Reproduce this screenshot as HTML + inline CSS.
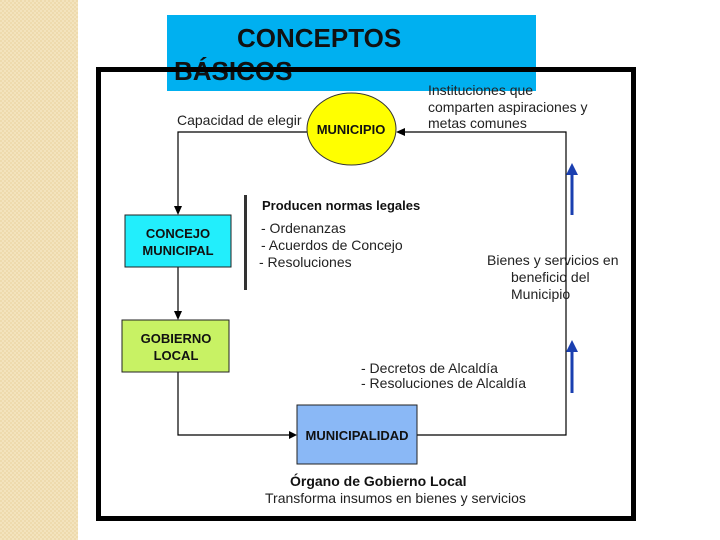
<!DOCTYPE html>
<html><head><meta charset="utf-8"><style>
html,body{margin:0;padding:0;background:#fff}
svg{display:block}
text{font-family:"Liberation Sans",Arial,sans-serif}
</style></head><body>
<svg width="720" height="540" viewBox="0 0 720 540" xmlns="http://www.w3.org/2000/svg">
<defs>
<pattern id="chk" width="4" height="4" patternUnits="userSpaceOnUse">
<rect width="4" height="4" fill="#f3e3bd"/><rect width="2" height="2" fill="#eedaad"/><rect x="2" y="2" width="2" height="2" fill="#eedaad"/>
</pattern>
</defs>
<rect x="0" y="0" width="78" height="540" fill="url(#chk)"/>
<rect x="167" y="15" width="369" height="76" fill="#00b0f0"/>
<text x="237" y="47" font-size="26" font-weight="bold" fill="#111">CONCEPTOS</text>
<text x="174" y="80" font-size="26" font-weight="bold" fill="#111">BÁSICOS</text>
<rect x="98.5" y="69.5" width="535" height="449" fill="none" stroke="#000" stroke-width="5"/>

<g stroke="#000" stroke-width="1.2" fill="none">
<polyline points="307,132 178,132 178,210"/>
<line x1="178" y1="267" x2="178" y2="315"/>
<polyline points="178,372 178,435 292,435"/>
<polyline points="417,435 566,435 566,132 402,132"/>
</g>
<g fill="#000">
<polygon points="174,206 182,206 178,215"/>
<polygon points="174,311 182,311 178,320"/>
<polygon points="289,431 289,439 297,435"/>
<polygon points="405,128 405,136 396,132"/>
</g>
<ellipse cx="351.5" cy="129" rx="44.5" ry="36" fill="#ffff00" stroke="#333" stroke-width="1"/>
<text x="351" y="134" font-size="13" font-weight="bold" text-anchor="middle" fill="#111">MUNICIPIO</text>
<text x="177" y="125" font-size="14" fill="#222">Capacidad de elegir</text>
<text x="428" y="95" font-size="14" fill="#222">Instituciones que</text>
<text x="428" y="112" font-size="14" fill="#222">comparten aspiraciones y</text>
<text x="428" y="128" font-size="14" fill="#222">metas comunes</text>

<rect x="125" y="215" width="106" height="52" fill="#22eefc" stroke="#222" stroke-width="1"/>
<text x="178" y="238" font-size="13" font-weight="bold" text-anchor="middle" fill="#111">CONCEJO</text>
<text x="178" y="255" font-size="13" font-weight="bold" text-anchor="middle" fill="#111">MUNICIPAL</text>

<rect x="122" y="320" width="107" height="52" fill="#c8f264" stroke="#222" stroke-width="1"/>
<text x="176" y="343" font-size="13" font-weight="bold" text-anchor="middle" fill="#111">GOBIERNO</text>
<text x="176" y="360" font-size="13" font-weight="bold" text-anchor="middle" fill="#111">LOCAL</text>

<rect x="297" y="405" width="120" height="59" fill="#8ab8f6" stroke="#222" stroke-width="1"/>
<text x="357" y="440" font-size="13" font-weight="bold" text-anchor="middle" fill="#111">MUNICIPALIDAD</text>

<rect x="244" y="195" width="3" height="95" fill="#333"/>
<text x="262" y="210" font-size="13" font-weight="bold" fill="#111">Producen normas legales</text>
<text x="261" y="233" font-size="14" fill="#222">-  Ordenanzas</text>
<text x="261" y="250" font-size="14" fill="#222">-  Acuerdos de Concejo</text>
<text x="259" y="267" font-size="14" fill="#222">-  Resoluciones</text>

<text x="487" y="265" font-size="14" fill="#222">Bienes y servicios en</text>
<text x="511" y="282" font-size="14" fill="#222">beneficio del</text>
<text x="511" y="299" font-size="14" fill="#222">Municipio</text>

<text x="361" y="373" font-size="14" fill="#222">-  Decretos de Alcaldía</text>
<text x="361" y="388" font-size="14" fill="#222">-  Resoluciones  de Alcaldía</text>

<text x="290" y="486" font-size="14" font-weight="bold" fill="#111">Órgano de Gobierno Local</text>
<text x="265" y="503" font-size="14" fill="#222">Transforma insumos en bienes y servicios</text>

<g stroke="#1a3fb0" stroke-width="3" fill="#1a3fb0">
<line x1="572" y1="215" x2="572" y2="172"/>
<line x1="572" y1="393" x2="572" y2="349"/>
</g>
<g fill="#1a3fb0">
<polygon points="566,175 578,175 572,163"/>
<polygon points="566,352 578,352 572,340"/>
</g>
</svg>
</body></html>
